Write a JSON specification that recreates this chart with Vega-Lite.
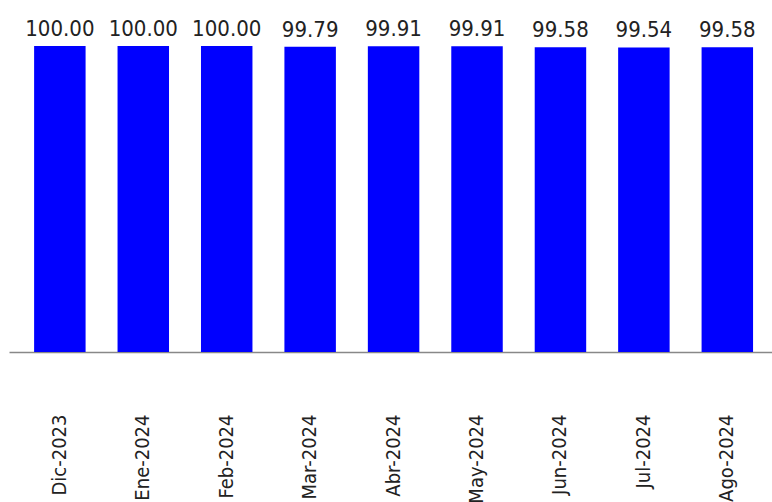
{
  "$schema": "https://vega.github.io/schema/vega-lite/v6.json",
  "autosize": "none",
  "width": 763,
  "height": 306,
  "padding": {"left": 9, "top": 46, "right": 0, "bottom": 150},
  "background": "white",
  "config": {"view": {"stroke": null}, "font": "DejaVu Sans Condensed"},
  "data": {
    "values": [
      {"mes": "Dic-2023", "valor": 100.00},
      {"mes": "Ene-2024", "valor": 100.00},
      {"mes": "Feb-2024", "valor": 100.00},
      {"mes": "Mar-2024", "valor": 99.79},
      {"mes": "Abr-2024", "valor": 99.91},
      {"mes": "May-2024", "valor": 99.91},
      {"mes": "Jun-2024", "valor": 99.58},
      {"mes": "Jul-2024", "valor": 99.54},
      {"mes": "Ago-2024", "valor": 99.58}
    ]
  },
  "encoding": {
    "x": {
      "field": "mes",
      "type": "nominal",
      "sort": null,
      "scale": {"paddingInner": 0.383, "paddingOuter": 0.264, "align": 0.57},
      "axis": {
        "title": null,
        "labelAngle": -90,
        "labelAlign": "right",
        "labelBaseline": "middle",
        "labelPadding": 62,
        "labelFontSize": 20,
        "labelColor": "#222222",
        "labelFont": "DejaVu Sans Condensed",
        "labelFontWeight": 300,
        "ticks": false,
        "domainColor": "#888888",
        "domainWidth": 1.5
      }
    },
    "y": {
      "field": "valor",
      "type": "quantitative",
      "scale": {"domain": [0, 100], "nice": false},
      "axis": null
    }
  },
  "layer": [
    {"mark": {"type": "bar", "color": "#0000FF"}},
    {
      "mark": {"type": "text", "baseline": "alphabetic", "dy": -10, "fontSize": 22, "fontWeight": 300, "color": "#222222", "font": "DejaVu Sans Condensed"},
      "encoding": {"text": {"field": "valor", "type": "quantitative", "format": ".2f"}}
    }
  ]
}
